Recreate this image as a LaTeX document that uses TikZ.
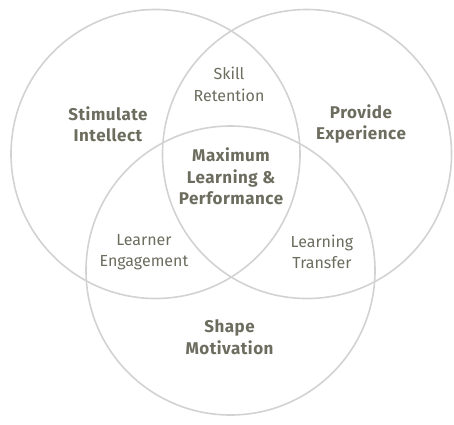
\documentclass[tikz,border=0pt]{standalone}
\usepackage{fontspec}
\setmainfont{Fira Sans}
\usepackage{tikz}
\usetikzlibrary{positioning}
\definecolor{ringgray}{HTML}{D2D2D2}
\definecolor{labelgray}{HTML}{6C6C5F}
\tikzstyle{ring} = [draw=ringgray, line width=1.6pt, circle,
    minimum size=289pt, inner sep=0pt]
\tikzstyle{mainlabel} = [text=labelgray,
    font=\fontsize{17}{21.5}\selectfont\bfseries\addfontfeature{LetterSpace=3},
    align=center, inner sep=0pt]
\tikzstyle{overlap} = [text=labelgray, font=\fontsize{16}{21.5}\selectfont,
    align=center, inner sep=0pt]

\begin{document}
\begin{tikzpicture}[x=1pt,y=-1pt]

\useasboundingbox (0,0) rectangle (454,424);

\node [ring] (intellect) at (155.5,154) {};
\node [ring] (experience) at (307,154) {};
\node [ring] (motivation) at (230.5,270.5) {};

\node [mainlabel] (stimulate) at (108,124) {Stimulate\\Intellect};
\node [mainlabel] (provide) at (361,124) {Provide\\Experience};
\node [mainlabel] (shape) at (229.5,337) {Shape\\Motivation};

\node [overlap] (skill) at (229,84.5) {Skill\\Retention};
\node [overlap] (learner) at (144,252) {Learner\\Engagement};
\node [overlap] (transfer) at (322,252) {Learning\\Transfer};

\node [mainlabel] (maximum) at (231,176.5) {Maximum\\Learning \&\\Performance};

\end{tikzpicture}
\end{document}
